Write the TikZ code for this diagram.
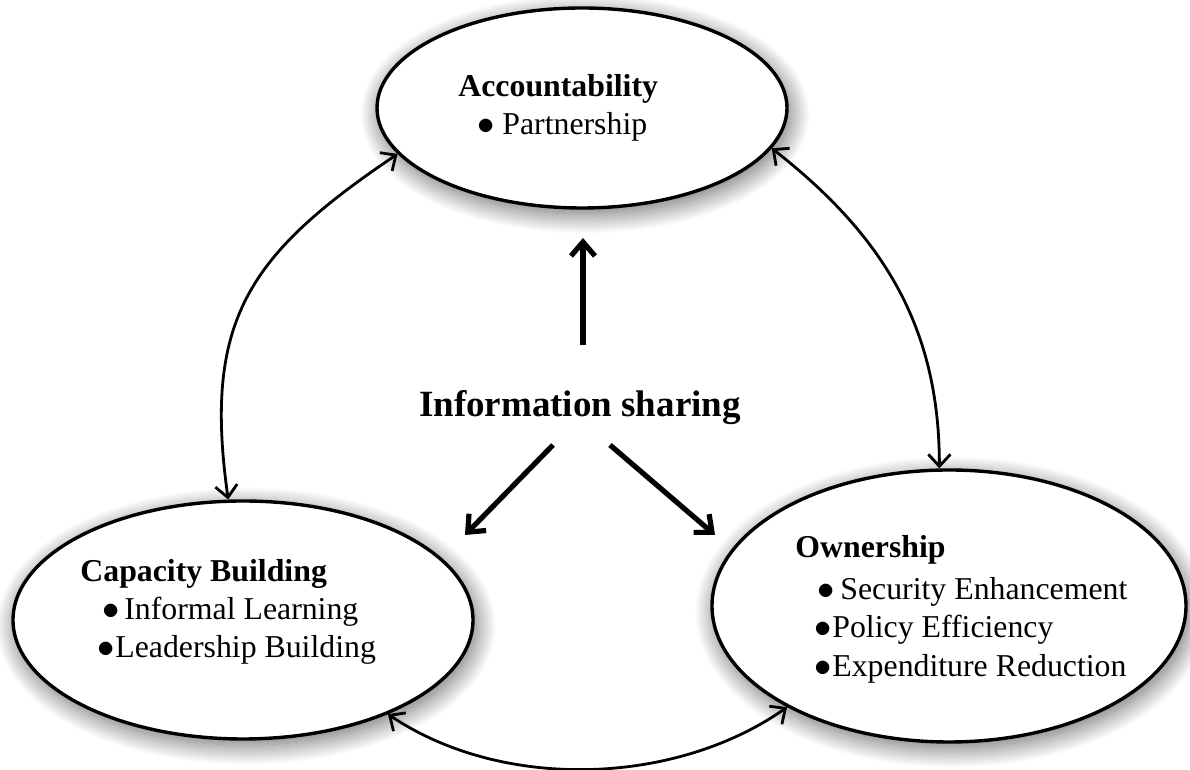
\documentclass[tikz,border=0pt]{standalone}
\usepackage{fontspec}
\setmainfont{Liberation Serif}
\usetikzlibrary{arrows.meta,shapes.geometric,shadows.blur}
% bullet in a box of given width, then the item text
\newcommand*{\bitem}[2]{\makebox[#1][l]{$\bullet$}#2}

\begin{document}
\begin{tikzpicture}[x=0.5pt,y=0.5pt,
  bubble/.style={ellipse,draw=black,line width=1.7pt,fill=white,inner sep=0pt,
    blur shadow={shadow xshift=1.5pt,shadow yshift=-3pt,shadow blur radius=10pt,
      shadow blur steps=30,shadow opacity=60}},
  title/.style={anchor=base west,inner sep=0pt,font=\fontsize{15.9}{19}\selectfont\bfseries},
  item/.style={anchor=base west,inner sep=0pt,font=\fontsize{15.9}{19}\selectfont},
  link/.style={{Straight Barb[length=6pt,width=11pt]}-{Straight Barb[length=6pt,width=11pt]},line width=1.4pt},
  bigarrow/.style={-{Straight Barb[length=7pt,width=12pt]},line width=2.6pt}]
	\useasboundingbox (0,0) rectangle (1190,770);

	% the three ellipses
	\node[bubble,minimum width=205pt,minimum height=100pt] (acc) at (582,662) {};
	\node[bubble,minimum width=230pt,minimum height=119pt] (cap) at (243,150) {};
	\node[bubble,minimum width=237pt,minimum height=136pt] (own) at (949,164) {};

	% their texts
	\node[title] (acc-t) at (458,673) {Accountability};
	\node[item] (acc-1) at (477,635) {\bitem{12.5pt}{Partnership}};

	\node[title] (cap-t) at (80,188) {Capacity Building};
	\node[item] (cap-1) at (102,150) {\bitem{11pt}{Informal Learning}};
	\node[item] (cap-2) at (97,112) {\bitem{9pt}{Leadership Building}};

	\node[title] (own-t) at (795,212) {Ownership};
	\node[item] (own-1) at (817,170) {\bitem{11.5pt}{Security Enhancement}};
	\node[item] (own-2) at (814,132) {\bitem{9pt}{Policy Efficiency}};
	\node[item] (own-3) at (814,93) {\bitem{9pt}{Expenditure Reduction}};

	\node[anchor=base,inner sep=0pt,font=\fontsize{18.5}{22}\selectfont\bfseries] (info) at (580,353) {Information sharing};

	% links between the ellipses
	\draw[link] (cap.97) to[out=98,in=214,looseness=1.2] (acc.194);
	\draw[link] (acc.348) to[out=-38,in=90] (own.94);
	\draw[link] (cap.327) to[out=-34,in=215,looseness=0.88] (own.212);

	% arrows out of the centre
	\coordinate (up-a) at (583,425); \coordinate (up-b) at (583,532);
	\coordinate (dl-a) at (553,325); \coordinate (dl-b) at (465,235);
	\coordinate (dr-a) at (610,325); \coordinate (dr-b) at (715,235);
	\draw[bigarrow] (up-a) -- (up-b);
	\draw[bigarrow] (dl-a) -- (dl-b);
	\draw[bigarrow] (dr-a) -- (dr-b);
\end{tikzpicture}
\end{document}
